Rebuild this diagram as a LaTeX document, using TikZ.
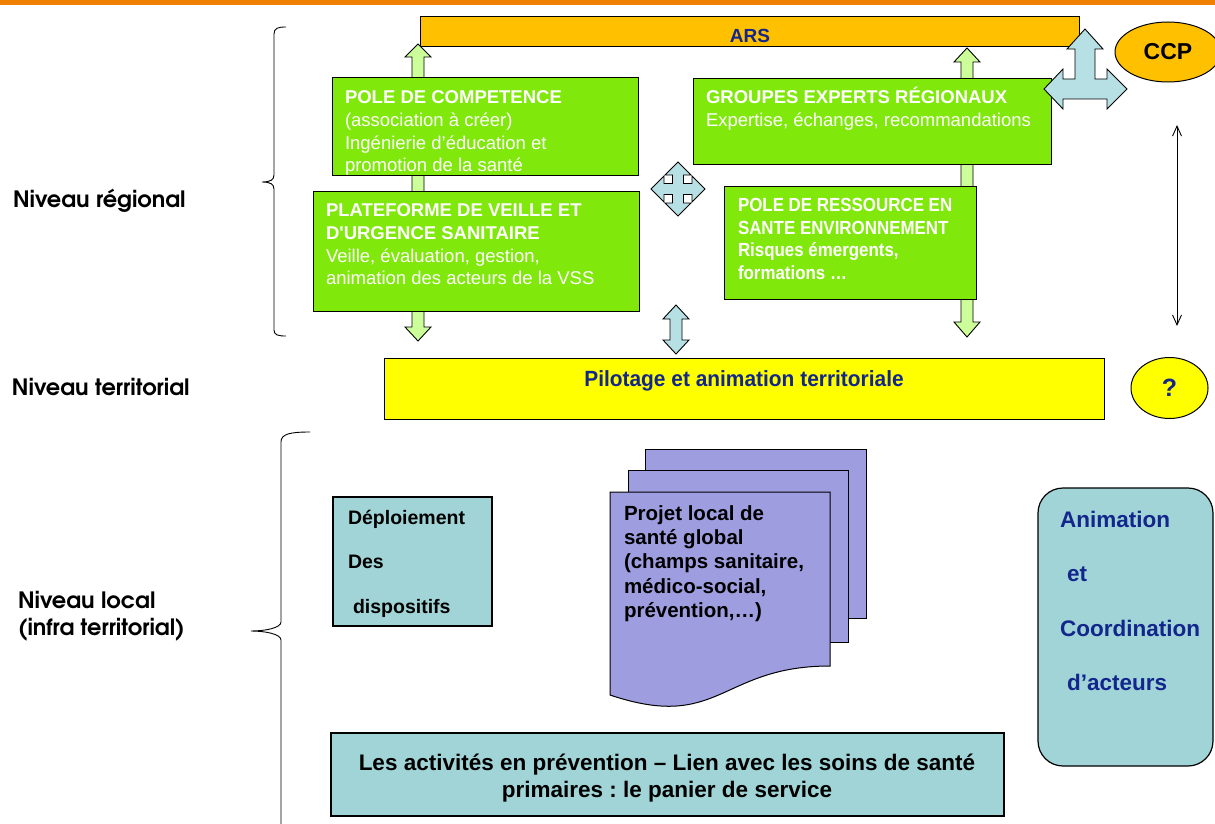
\documentclass[tikz,border=0pt]{standalone}
\usepackage{fontspec}
\setmainfont{Liberation Sans}
\newfontfamily\narrowfont[FakeStretch=0.89]{Liberation Sans}
\newfontfamily\pilotfont[FakeStretch=0.95]{Liberation Sans}
\newfontfamily\gothic[Extension=.otf,UprightFont=*-regular,BoldFont=*-bold]{texgyreadventor}
\usetikzlibrary{shapes.geometric,arrows.meta}
\definecolor{orangebar}{RGB}{238,127,0}
\definecolor{arsorange}{RGB}{255,192,0}
\definecolor{vgreen}{RGB}{128,232,10}
\definecolor{lgreen}{RGB}{204,255,153}
\definecolor{lblue}{RGB}{183,224,228}
\definecolor{tealbox}{RGB}{160,212,214}
\definecolor{lavender}{RGB}{157,157,224}
\definecolor{dblue}{RGB}{18,38,140}
\definecolor{yel}{RGB}{255,255,0}
\newcommand\hs{\rule{0pt}{17pt}}
\frenchspacing
\begin{document}
\begin{tikzpicture}[x=1pt,y=-1pt,
  every node/.style={inner sep=0pt,outer sep=0pt},
  boxg/.style={rectangle,draw=black,line width=1pt,fill=vgreen,anchor=north west},
  gtext/.style={anchor=north west,align=left,text=white,font=\fontsize{18.5}{22.7}\selectfont},
  garrow/.style={draw=black,line width=0.9pt,fill=lgreen,line join=miter},
  barrow/.style={draw=black,line width=0.9pt,fill=lblue,line join=miter},
  lvl/.style={anchor=base west,font=\gothic\bfseries\fontsize{22.5}{27}\selectfont},
  brace/.style={draw=black,line width=0.9pt}]
\useasboundingbox (0,0) rectangle (1215,824);
\fill[white] (0,0) rectangle (1215,824);
\fill[orangebar] (0,0) rectangle (1215,5.5);

% ARS
\node[rectangle,draw=black,line width=1pt,fill=arsorange,minimum width=659,minimum height=30,anchor=north west] (ars) at (420,17) {};
\node[anchor=base,text=dblue,font=\bfseries\fontsize{19}{22}\selectfont] (arstext) at (750,42.5) {ARS};

% green block arrows (behind boxes)
\draw[garrow] (418,44) -- (431,57) -- (424,57) -- (424,327) -- (431,327) -- (418,341) -- (405,327) -- (412,327) -- (412,57) -- (405,57) -- cycle;
\draw[garrow] (967,48) -- (980,62) -- (973,62) -- (973,322) -- (980,322) -- (967,337) -- (954,322) -- (961,322) -- (961,62) -- (954,62) -- cycle;

% green boxes
\node[boxg,minimum width=306,minimum height=97] (pc) at (332,78) {};
\node[gtext] (pctext) at (345,86.6) {\hs\textbf{POLE DE COMPETENCE}\\(association à créer)\\Ingénierie d’éducation et\\promotion de la santé};
\node[boxg,minimum width=358,minimum height=85] (ger) at (693,79) {};
\node[gtext] (gertext) at (706,86.6) {\hs\textbf{GROUPES EXPERTS RÉGIONAUX}\\Expertise, échanges, recommandations};
\node[boxg,minimum width=326,minimum height=120] (pf) at (313,191) {};
\node[gtext] (pftext) at (326,199.6) {\hs\textbf{PLATEFORME DE VEILLE ET}\\\textbf{D\textquotesingle URGENCE SANITAIRE}\\Veille, évaluation, gestion,\\animation des acteurs de la VSS};
\node[boxg,minimum width=252,minimum height=113] (prs) at (724,186) {};
\node[gtext,font=\narrowfont\bfseries\fontsize{19}{22.5}\selectfont] (prstext) at (738,194.6) {\hs POLE DE RESSOURCE EN\\SANTE ENVIRONNEMENT\\Risques émergents,\\formations …};

% blue cross
\draw[barrow] (678,162) -- (691,175) -- (683.5,175) -- (683.5,183.5) -- (692,183.5) -- (692,176) -- (705,189) -- (692,202) -- (692,194.5) -- (683.5,194.5) -- (683.5,203) -- (691,203) -- (678,216) -- (665,203) -- (672.5,203) -- (672.5,194.5) -- (664,194.5) -- (664,202) -- (651,189) -- (664,176) -- (664,183.5) -- (672.5,183.5) -- (672.5,175) -- (665,175) -- cycle;
% vertical blue double arrow
\draw[barrow] (676,305) -- (689,319) -- (682,319) -- (682,340) -- (689,340) -- (676,354) -- (663,340) -- (670,340) -- (670,319) -- (663,319) -- cycle;
% three-way arrow
\draw[barrow] (1085,29) -- (1103,49) -- (1095,49) -- (1095,79) -- (1107,79) -- (1107,69) -- (1127,89) -- (1107,109) -- (1107,99) -- (1063,99) -- (1063,109) -- (1044,89) -- (1063,69) -- (1063,79) -- (1075,79) -- (1075,49) -- (1067,49) -- cycle;

% CCP
\node[ellipse,draw=black,line width=1pt,fill=arsorange,minimum width=106,minimum height=60,font=\bfseries\fontsize{23}{27}\selectfont] (ccp) at (1168,52) {CCP};
% thin double arrow
\coordinate (ta) at (1177,125);
\coordinate (tb) at (1177,326);
\draw[line width=0.9pt,{Straight Barb[length=10pt,width=9pt]}-{Straight Barb[length=10pt,width=9pt]}] (ta) -- (tb);

% pilotage
\node[rectangle,draw=black,line width=1pt,fill=yel,minimum width=720,minimum height=61,anchor=north west] (pil) at (384,358) {};
\node[anchor=base,text=dblue,font=\pilotfont\bfseries\fontsize{22}{26}\selectfont] (piltext) at (744,386) {Pilotage et animation territoriale};
\node[ellipse,draw=black,line width=1pt,fill=yel,minimum width=77,minimum height=61,text=dblue,font=\bfseries\fontsize{25}{28}\selectfont] (q) at (1169.5,388) {?};

% braces
\draw[brace] (286,27) .. controls (278,27) and (274,28) .. (274,34) -- (274,175) .. controls (274,180) and (270,182) .. (262,182) .. controls (270,182) and (274,184) .. (274,189) -- (274,330) .. controls (274,335) and (278,336) .. (286,336);
\draw[brace] (310,432) .. controls (290,432) and (281,434) .. (281,442) -- (281,622) .. controls (281,628) and (265,631) .. (251,631) .. controls (265,631) and (281,634) .. (281,640) -- (281,826);

% level labels
\node[lvl] (lreg) at (13,207) {Niveau régional};
\node[lvl] (lter) at (12,395) {Niveau territorial};
\node[lvl] (lloc1) at (18,608) {Niveau local};
\node[lvl] (lloc2) at (18,635) {(infra territorial)};

% Deploiement
\node[rectangle,draw=black,line width=2.5pt,fill=tealbox,minimum width=159,minimum height=129,anchor=north west] (dep) at (333,497) {};
\node[anchor=north west,align=left,font=\bfseries\fontsize{19.5}{44.5}\selectfont] (deptext) at (348,507) {\hs Déploiement\\Des\\\hspace*{5pt}dispositifs};

% document stack
\draw[line width=1pt,fill=lavender] (645,449) rectangle (866,618);
\draw[line width=1pt,fill=lavender] (628,470) rectangle (848,642);
\draw[line width=1pt,fill=lavender] (610,492) -- (830,492) -- (830,666) .. controls (720,666) and (720,732) .. (610,695) -- cycle;
\node[anchor=north west,align=left,font=\bfseries\fontsize{20.5}{24.4}\selectfont] (plstext) at (624,503) {\hs Projet local de\\santé global\\(champs sanitaire,\\médico-social,\\prévention,…)};

% animation
\node[rectangle,rounded corners=25pt,draw=black,line width=1.2pt,fill=tealbox,minimum width=175,minimum height=278,anchor=north west] (anim) at (1038,488) {};
\node[anchor=north west,align=left,text=dblue,font=\bfseries\fontsize{22.5}{54.5}\selectfont] (animtext) at (1060,510) {\hs Animation\\\hspace*{7pt}et\\Coordination\\\hspace*{7pt}d’acteurs};

% bottom box
\node[rectangle,draw=black,line width=2.5pt,fill=tealbox,minimum width=673,minimum height=83,anchor=north west] (act) at (331,733) {};
\node[anchor=north,align=center,font=\bfseries\fontsize{22.5}{27}\selectfont] (acttext) at (667,753) {\hs Les activités en prévention – Lien avec les soins de santé\\primaires : le panier de service};
\end{tikzpicture}
\end{document}
